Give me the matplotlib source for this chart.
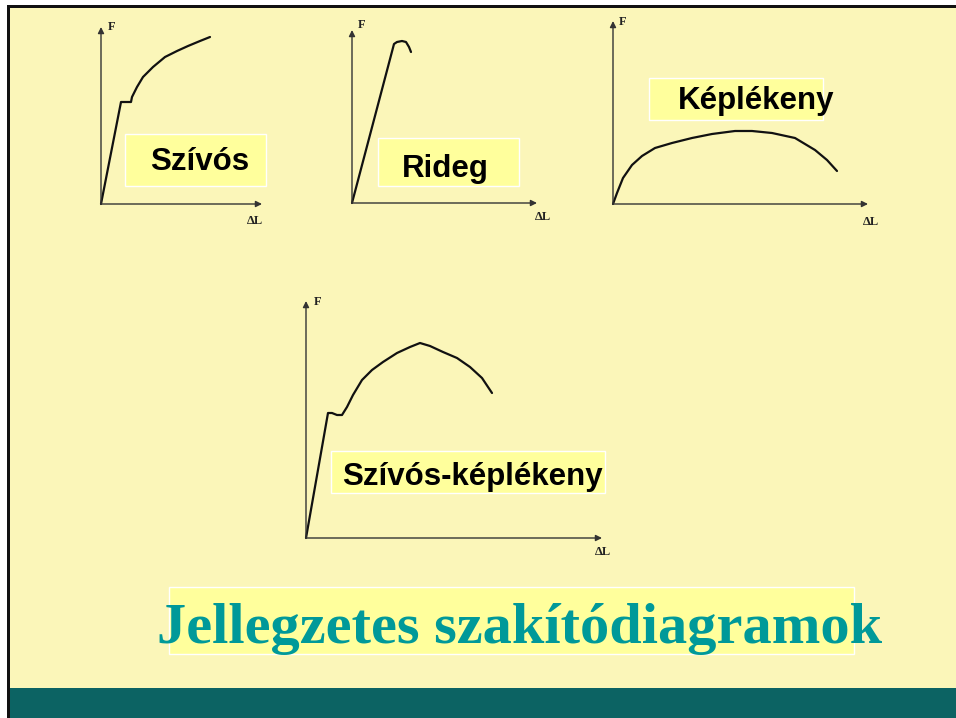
import matplotlib.pyplot as plt
from matplotlib.patches import Rectangle

# curves, values in pixels measured from each diagram's origin (dx right, dF up)
szivos_dl = [0, 20, 30, 31, 36, 42, 52, 64, 76, 87, 99, 109]
szivos_f = [0, 102, 102, 107, 117, 127, 137, 147, 153, 158, 163, 167]

rideg_dl = [0, 42, 45, 50, 54, 57, 59]
rideg_f = [0, 159, 161, 162, 161, 156, 151]

kepl_dl = [0, 4, 10, 19, 29, 42, 59, 79, 99, 122, 139, 159, 182, 202, 214, 224]
kepl_f = [0, 11, 26, 39, 48, 56, 61, 66, 70, 73, 73, 71, 66, 54, 44, 33]

szk_dl = [0, 22, 26, 31, 36, 41, 47, 56, 66, 77, 91, 104, 114, 124, 137, 151,
          164, 176, 186]
szk_f = [0, 125, 125, 123, 123, 131, 143, 158, 168, 176, 185, 191, 195, 192,
         186, 180, 171, 160, 145]

labels = ["Szívós", "Rideg", "Képlékeny", "Szívós-képlékeny"]
title = "Jellegzetes szakítódiagramok"

W, H = 956, 718
bg = "#FBF6B9"
boxc = "#FFFF9C"
teal = "#0C6363"

fig = plt.figure(figsize=(W / 100, H / 100), dpi=100)
fig.patch.set_facecolor("white")
ax = fig.add_axes([0, 0, 1, 1])
ax.set_xlim(0, W)
ax.set_ylim(H, 0)
ax.axis("off")

# slide background and frame
ax.add_patch(Rectangle((7, 5), W, H, facecolor=bg, edgecolor="none"))
ax.add_patch(Rectangle((10, 688), W, 30, facecolor=teal, edgecolor="none"))
ax.add_patch(Rectangle((7, 5), W, 3, facecolor="#111111", edgecolor="none"))
ax.add_patch(Rectangle((7, 5), 3, H, facecolor="#111111", edgecolor="none"))


def diagram(ox, oy, w, h, dl, f, flab, dlab):
    # small axes whose data units are pixels
    a = fig.add_axes([ox / W, (H - oy) / H, w / W, h / H])
    a.set_xlim(0, w)
    a.set_ylim(0, h)
    a.axis("off")
    ap = dict(arrowstyle="-|>", mutation_scale=9, lw=1.0, color="#333333",
              shrinkA=0, shrinkB=0)
    a.annotate("", xy=(0, 1), xytext=(0, 0), xycoords="axes fraction",
               arrowprops=ap, annotation_clip=False)
    a.annotate("", xy=(1, 0), xytext=(0, 0), xycoords="axes fraction",
               arrowprops=ap, annotation_clip=False)
    a.plot(dl, f, color="#111111", lw=1.6, clip_on=False,
           solid_joinstyle="round", solid_capstyle="round")
    ax.text(flab[0], flab[1], "F", family="Liberation Serif", weight="bold",
            fontsize=9, ha="center", va="center", color="#222222")
    ax.text(dlab[0], dlab[1], "ΔL", family="Liberation Serif", weight="bold",
            fontsize=9, ha="center", va="center", color="#222222")


diagram(101, 204, 161, 177, szivos_dl, szivos_f, (112, 27), (255, 221))
diagram(352, 203, 185, 173, rideg_dl, rideg_f, (362, 25), (543, 217))
diagram(613, 204, 255, 183, kepl_dl, kepl_f, (623, 22), (871, 222))
diagram(306, 538, 296, 237, szk_dl, szk_f, (318, 302), (603, 552))


def label_box(x0, y0, x1, y1, tx, ty, s):
    ax.add_patch(Rectangle((x0, y0), x1 - x0, y1 - y0, facecolor=boxc,
                           edgecolor="white", lw=1.0))
    ax.text(tx, ty, s, family="Liberation Sans", weight="bold", fontsize=22.5,
            ha="left", va="baseline", color="black")


label_box(125, 134, 266, 186, 150, 170, labels[0])
label_box(378, 138, 519, 186, 402, 177, labels[1])
label_box(649, 78, 823, 120, 678, 109, labels[2])
label_box(331, 451, 605, 493, 342, 485, labels[3])

ax.add_patch(Rectangle((169, 587), 685, 67, facecolor=boxc,
                       edgecolor="white", lw=1.0))
ax.text(157, 643, title, family="Liberation Serif", weight="bold",
        fontsize=42, ha="left", va="baseline", color="#009999")

fig.savefig("out.png", dpi=100, facecolor=fig.get_facecolor())
